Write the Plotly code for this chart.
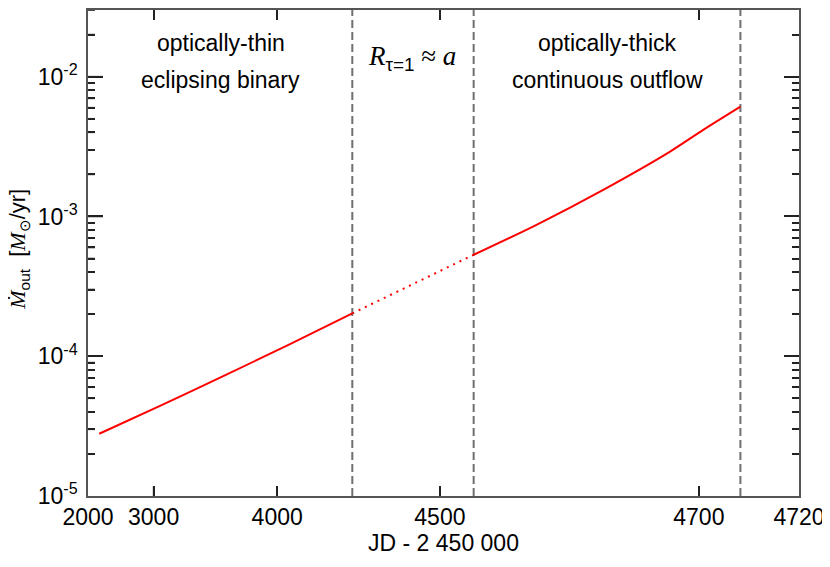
import numpy as np
import plotly.graph_objects as go

# ---- data ----
T_MERGE = 4740.0            # reference epoch used by the time axis (JD - 2 450 000)
jd = [2205, 3075, 3665, 4063, 4300, 4550, 4617, 4662.5, 4691.2, 4701.2, 4710]
mdot = [2.79e-5, 4.41e-5, 7.20e-5, 1.221e-4, 2.025e-4, 5.32e-4, 8.72e-4, 1.551e-3, 2.912e-3, 4.16e-3, 6.10e-3]
boundaries = [4300, 4550, 4710]
xtick_jd = [2000, 3000, 4000, 4500, 4700, 4720]
xtick_text = ["2000", "3000", "4000", "4500", "4700", "4720"]
x_range_jd = [2000, 4720]
y_range = [1e-5, 3e-2]
ytick_vals = [1e-5, 1e-4, 1e-3, 1e-2]
ytick_text = ["10<sup>-5</sup>", "10<sup>-4</sup>", "10<sup>-3</sup>", "10<sup>-2</sup>"]


def tx(v):
    v = np.asarray(v, dtype=float)
    return -np.log10(T_MERGE - v)


jd_a = np.array(jd, dtype=float)
md_a = np.array(mdot)
seg1 = jd_a <= boundaries[0]
seg2 = (jd_a >= boundaries[0]) & (jd_a <= boundaries[1])
seg3 = jd_a >= boundaries[1]

RED = "#ff0000"
GRAY = "#707070"
AX = "#222222"
SANS = "Liberation Sans, Arial, sans-serif"
SERIF = "Liberation Serif, Times New Roman, serif"

fig = go.Figure()
for b in boundaries:
    fig.add_trace(go.Scatter(x=tx([b, b]), y=y_range, mode="lines",
                             line=dict(color=GRAY, width=2, dash="8px,4px"),
                             hoverinfo="skip", showlegend=False))
fig.add_trace(go.Scatter(x=tx(jd_a[seg1]), y=md_a[seg1], mode="lines",
                         line=dict(color=RED, width=2, shape="spline", smoothing=0.8), showlegend=False))
fig.add_trace(go.Scatter(x=tx(jd_a[seg2]), y=md_a[seg2], mode="lines",
                         line=dict(color=RED, width=2, dash="2px,5px"), showlegend=False))
fig.add_trace(go.Scatter(x=tx(jd_a[seg3]), y=md_a[seg3], mode="lines",
                         line=dict(color=RED, width=2, shape="spline", smoothing=0.8), showlegend=False))

minor_vals = [k * 10.0 ** e for e in range(-5, -1) for k in range(2, 10)]
minor_vals = [v for v in minor_vals if v <= y_range[1]]

xr = list(tx(x_range_jd))
xt = list(tx(xtick_jd))
yr = [np.log10(y_range[0]), np.log10(y_range[1])]
tick_common = dict(ticks="inside", tickwidth=1.6, tickcolor=AX, showline=True, linecolor="#555555",
                   linewidth=1.5, mirror="ticks", showgrid=False, zeroline=False, automargin=False)

fig.update_layout(
    xaxis=dict(range=xr, tickvals=xt, ticktext=xtick_text, ticklen=10, ticklabeloverflow="allow",
               tickfont=dict(family=SANS, size=23, color="black"),
               title=dict(text="JD - 2 450 000", font=dict(family=SANS, size=23, color="black"), standoff=4),
               **tick_common),
    yaxis=dict(type="log", range=yr, tickvals=ytick_vals, ticktext=ytick_text, ticklen=15,
               minor=dict(tickvals=minor_vals, ticks="inside", ticklen=7, tickwidth=1.6, tickcolor=AX,
                          showgrid=False),
               ticklabelstandoff=4, tickfont=dict(family=SANS, size=23, color="black"), **tick_common),
)

# extra tick marks on the bottom and left sides, anchored to the axes (pixel-length lines)
tick_line = dict(color=AX, width=1.6)
for v in xt[1:-1]:
    fig.add_shape(type="line", xref="x", x0=v, x1=v, yref="y domain", ysizemode="pixel",
                  yanchor=0, y0=0, y1=10, line=tick_line, layer="above")
for v in ytick_vals[1:]:
    fig.add_shape(type="line", yref="y", y0=v, y1=v, xref="x domain", xsizemode="pixel",
                  xanchor=0, x0=0, x1=15, line=tick_line, layer="above")
for v in minor_vals:
    fig.add_shape(type="line", yref="y", y0=v, y1=v, xref="x domain", xsizemode="pixel",
                  xanchor=0, x0=0, x1=7, line=tick_line, layer="above")

ann_font = dict(family=SANS, size=23, color="black")
annots = [
    (221, 43, "optically-thin"),
    (220, 80, "eclipsing binary"),
    (607, 43, "optically-thick"),
    (607, 80, "continuous outflow"),
]
L, T, W, H = 88, 10, 711, 486.5
for px, py, txt in annots:
    fig.add_annotation(x=(px - L) / W, y=1 - (py - T) / H, xref="paper", yref="paper",
                       text=txt, showarrow=False, font=ann_font, xanchor="center", yanchor="middle")
fig.add_annotation(x=(412 - L) / W, y=1 - (58 - T) / H, xref="paper", yref="paper",
                   text=f'<span style="font-family:{SERIF}"><i>R</i></span><sub>τ=1</sub>'
                        f'<span style="font-family:{SERIF}"> ≈ <i>a</i></span>',
                   showarrow=False, font=dict(family=SANS, size=27, color="black"),
                   xanchor="center", yanchor="middle")
fig.add_annotation(x=0, y=1 - (250 - T) / H, xref="paper", yref="paper", xshift=-69,
                   text=f'<span style="font-family:{SERIF}"><i>Ṁ</i></span><sub>out</sub>  '
                        f'[<span style="font-family:{SERIF}"><i>M</i></span><sub>⊙</sub>/yr]',
                   textangle=-90, showarrow=False, font=dict(family=SANS, size=22, color="black"),
                   xanchor="center", yanchor="middle")

# the page body adds an 8px offset; size the figure so the plot box lands where the reference has it
fig.update_layout(
    template="none",
    width=822, height=551, margin=dict(l=80, r=31, t=2, b=62.5, autoexpand=False),
    paper_bgcolor="white", plot_bgcolor="white", showlegend=False,
)
fig.write_html("out.html")
